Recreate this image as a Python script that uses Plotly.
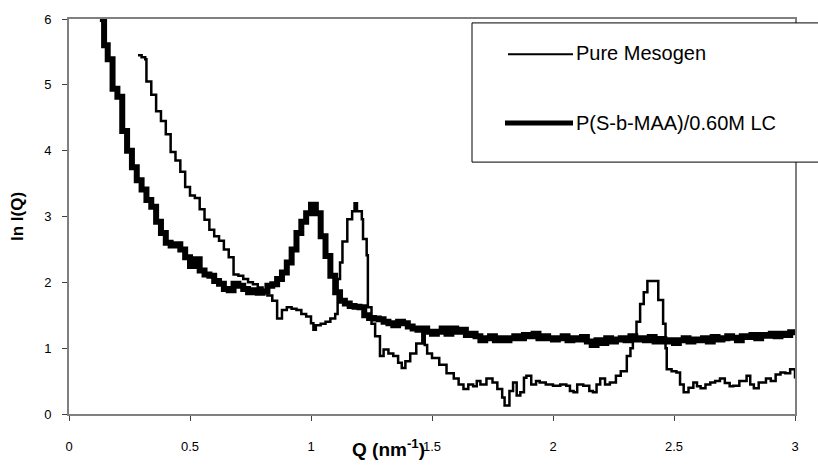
import plotly.graph_objects as go

# ---- data ----
q_blend = [0.13, 0.14, 0.145, 0.16, 0.18, 0.20, 0.22, 0.24, 0.26, 0.28, 0.30, 0.32, 0.34, 0.36, 0.38,
           0.40, 0.42, 0.44, 0.46, 0.48, 0.50, 0.52, 0.54, 0.56, 0.58, 0.60, 0.62, 0.64, 0.66, 0.68,
           0.70, 0.72, 0.74, 0.76, 0.78, 0.80, 0.82, 0.84, 0.86, 0.88, 0.90, 0.92, 0.94, 0.96, 0.98,
           1.00, 1.02, 1.04, 1.06, 1.08, 1.10, 1.12, 1.14, 1.16, 1.18, 1.20, 1.22, 1.24, 1.26, 1.28,
           1.30, 1.32, 1.34, 1.36, 1.38, 1.40, 1.42, 1.44, 1.46, 1.48, 1.50, 1.52, 1.54, 1.56, 1.58,
           1.60, 1.62, 1.64, 1.66, 1.68, 1.70, 1.72, 1.74, 1.76, 1.78, 1.80, 1.82, 1.84, 1.86, 1.88,
           1.90, 1.92, 1.94, 1.96, 1.98, 2.00, 2.02, 2.04, 2.06, 2.08, 2.10, 2.12, 2.14, 2.16, 2.18,
           2.20, 2.22, 2.24, 2.26, 2.28, 2.30, 2.32, 2.34, 2.36, 2.38, 2.40, 2.42, 2.44, 2.46, 2.48,
           2.50, 2.52, 2.54, 2.56, 2.58, 2.60, 2.62, 2.64, 2.66, 2.68, 2.70, 2.72, 2.74, 2.76, 2.78,
           2.80, 2.82, 2.84, 2.86, 2.88, 2.90, 2.92, 2.94, 2.96, 2.98, 3.00]
ln_blend = [6.40, 6.00, 5.60, 5.39, 4.94, 4.82, 4.30, 4.00, 3.75, 3.55, 3.41, 3.25, 3.15, 2.92, 2.75,
            2.60, 2.56, 2.58, 2.50, 2.38, 2.25, 2.35, 2.18, 2.12, 2.10, 2.02, 1.98, 1.90, 1.88, 1.98,
            1.95, 1.90, 1.85, 1.88, 1.84, 1.86, 1.95, 1.97, 2.05, 2.15, 2.30, 2.50, 2.75, 2.92, 3.05,
            3.18, 3.05, 2.70, 2.40, 2.10, 1.85, 1.72, 1.68, 1.64, 1.63, 1.62, 1.50, 1.46, 1.45, 1.44,
            1.40, 1.38, 1.35, 1.40, 1.38, 1.33, 1.30, 1.28, 1.30, 1.25, 1.22, 1.25, 1.30, 1.22, 1.30,
            1.25, 1.28, 1.20, 1.22, 1.18, 1.12, 1.15, 1.18, 1.12, 1.15, 1.12, 1.15, 1.18, 1.15, 1.20,
            1.18, 1.22, 1.15, 1.18, 1.15, 1.13, 1.15, 1.18, 1.12, 1.15, 1.13, 1.17, 1.10, 1.05, 1.12,
            1.08, 1.15, 1.10, 1.13, 1.15, 1.12, 1.18, 1.13, 1.15, 1.12, 1.17, 1.10, 1.14, 1.10, 1.12,
            1.08, 1.12, 1.15, 1.10, 1.13, 1.12, 1.15, 1.10, 1.17, 1.13, 1.15, 1.18, 1.16, 1.12, 1.18,
            1.17, 1.20, 1.15, 1.20, 1.19, 1.22, 1.18, 1.22, 1.20, 1.24, 1.24]

q_meso = [0.285, 0.30, 0.315, 0.32, 0.34, 0.36, 0.38, 0.40, 0.42, 0.44, 0.46, 0.48, 0.50, 0.52, 0.54,
          0.56, 0.58, 0.60, 0.62, 0.64, 0.66, 0.68, 0.70, 0.72, 0.74, 0.76, 0.78, 0.80, 0.82, 0.84,
          0.86, 0.88, 0.90, 0.92, 0.94, 0.96, 0.98, 1.00, 1.01, 1.02, 1.04, 1.06, 1.08, 1.10, 1.11,
          1.12, 1.13, 1.15, 1.17, 1.18, 1.19, 1.21, 1.215, 1.23, 1.235, 1.25, 1.265, 1.285, 1.30, 1.32,
          1.34, 1.36, 1.375, 1.39, 1.41, 1.435, 1.46, 1.47, 1.48, 1.50, 1.53, 1.56, 1.59, 1.61, 1.63,
          1.65, 1.67, 1.685, 1.70, 1.725, 1.75, 1.77, 1.79, 1.80, 1.82, 1.835, 1.85, 1.865, 1.88, 1.89,
          1.91, 1.93, 1.945, 1.97, 2.00, 2.03, 2.055, 2.07, 2.085, 2.10, 2.125, 2.15, 2.165, 2.18, 2.195,
          2.215, 2.235, 2.26, 2.28, 2.305, 2.32, 2.33, 2.345, 2.36, 2.375, 2.39, 2.42, 2.435, 2.455, 2.465,
          2.47, 2.49, 2.51, 2.525, 2.54, 2.56, 2.58, 2.595, 2.61, 2.63, 2.65, 2.67, 2.69, 2.71, 2.73,
          2.745, 2.77, 2.80, 2.815, 2.83, 2.85, 2.88, 2.90, 2.92, 2.94, 2.96, 2.98, 3.00]
ln_meso = [5.45, 5.42, 5.39, 5.05, 4.85, 4.60, 4.45, 4.25, 3.98, 3.85, 3.68, 3.45, 3.32, 3.28, 3.11,
           2.95, 2.80, 2.70, 2.63, 2.50, 2.38, 2.12, 2.10, 2.05, 2.00, 1.97, 1.92, 1.87, 1.80, 1.72,
           1.45, 1.58, 1.62, 1.60, 1.58, 1.52, 1.48, 1.38, 1.28, 1.35, 1.37, 1.40, 1.45, 1.52, 2.05,
           2.30, 2.62, 2.96, 3.08, 3.20, 3.08, 2.96, 2.66, 2.41, 1.62, 1.37, 1.18, 0.88, 0.98, 0.92,
           0.88, 0.78, 0.70, 0.80, 0.92, 1.07, 1.30, 1.05, 0.92, 0.85, 0.75, 0.62, 0.54, 0.45, 0.38,
           0.45, 0.42, 0.50, 0.45, 0.54, 0.48, 0.38, 0.25, 0.13, 0.35, 0.48, 0.28, 0.33, 0.55, 0.58,
           0.45, 0.50, 0.48, 0.45, 0.43, 0.45, 0.43, 0.35, 0.33, 0.45, 0.43, 0.35, 0.33, 0.45, 0.54,
           0.45, 0.48, 0.58, 0.65, 0.88, 1.00, 1.13, 1.40, 1.67, 1.85, 2.02, 2.02, 1.73, 1.37, 1.00,
           0.68, 0.65, 0.63, 0.45, 0.33, 0.40, 0.48, 0.42, 0.39, 0.45, 0.48, 0.50, 0.54, 0.47, 0.42,
           0.43, 0.50, 0.58, 0.45, 0.39, 0.48, 0.54, 0.50, 0.60, 0.63, 0.62, 0.68, 0.54]

x_ticks = [0, 0.5, 1, 1.5, 2, 2.5, 3]
y_ticks = [0, 1, 2, 3, 4, 5, 6]
series_names = ["Pure Mesogen", "P(S-b-MAA)/0.60M LC"]

# ---- layout geometry (pixels) ----
W, H = 818, 466
L, R, T, B = 69, 795, 16, 419


def px(xp):
    return (xp - L) / (R - L)


def py(yp):
    return (B - yp) / (B - T)


FONT = "Liberation Sans, Arial, sans-serif"

fig = go.Figure()
fig.add_trace(go.Scatter(x=q_meso, y=ln_meso, mode="lines", name=series_names[0],
                         line=dict(color="black", width=2.5, shape="hv"), showlegend=False))
fig.add_trace(go.Scatter(x=q_blend, y=ln_blend, mode="lines", name=series_names[1],
                         line=dict(color="black", width=6, shape="hv"), showlegend=False))

axis_common = dict(showgrid=False, zeroline=False, showline=True, linecolor="#808080", linewidth=2,
                   mirror=True, ticks="outside", ticklen=5, tickwidth=1, tickcolor="#404040",
                   tickfont=dict(family=FONT, size=13, color="black"))
fig.update_xaxes(range=[0, 3], tickvals=x_ticks, ticktext=[f"{v:g}" for v in x_ticks],
                 ticklabelstandoff=14, **axis_common)
fig.update_yaxes(range=[0, 6], tickvals=y_ticks, ticktext=[str(v) for v in y_ticks],
                 ticklabelstandoff=8, **axis_common)

shapes = [
    dict(type="rect", xref="paper", yref="paper", x0=px(472), x1=px(830), y0=py(162), y1=py(20),
         line=dict(color="black", width=1), fillcolor="white", layer="above"),
    dict(type="line", xref="paper", yref="paper", x0=px(508), x1=px(573), y0=py(52), y1=py(52),
         line=dict(color="black", width=2), layer="above"),
    dict(type="line", xref="paper", yref="paper", x0=px(505), x1=px(573), y0=py(122), y1=py(122),
         line=dict(color="black", width=5), layer="above"),
]

annotations = [
    dict(text=series_names[0], xref="paper", yref="paper", x=px(574), y=py(51), xanchor="left",
         yanchor="middle", showarrow=False, font=dict(family=FONT, size=20, color="black")),
    dict(text=series_names[1], xref="paper", yref="paper", x=px(574), y=py(122), xanchor="left",
         yanchor="middle", showarrow=False, font=dict(family=FONT, size=20, color="black")),
    dict(text="<b>Q (nm<sup>-1</sup>)</b>", xref="paper", yref="paper", x=px(388), y=py(454),
         xanchor="center", yanchor="middle", showarrow=False,
         font=dict(family=FONT, size=19, color="black")),
    dict(text="<b>ln I(Q)</b>", xref="paper", yref="paper", x=px(18), y=py(218), textangle=-90,
         xanchor="center", yanchor="middle", showarrow=False,
         font=dict(family=FONT, size=17, color="black")),
]

fig.update_layout(width=W, height=H, margin=dict(l=L, r=W - R, t=T, b=H - B, pad=0),
                  paper_bgcolor="white", plot_bgcolor="white", showlegend=False,
                  shapes=shapes, annotations=annotations)

fig.write_html("out.html")
